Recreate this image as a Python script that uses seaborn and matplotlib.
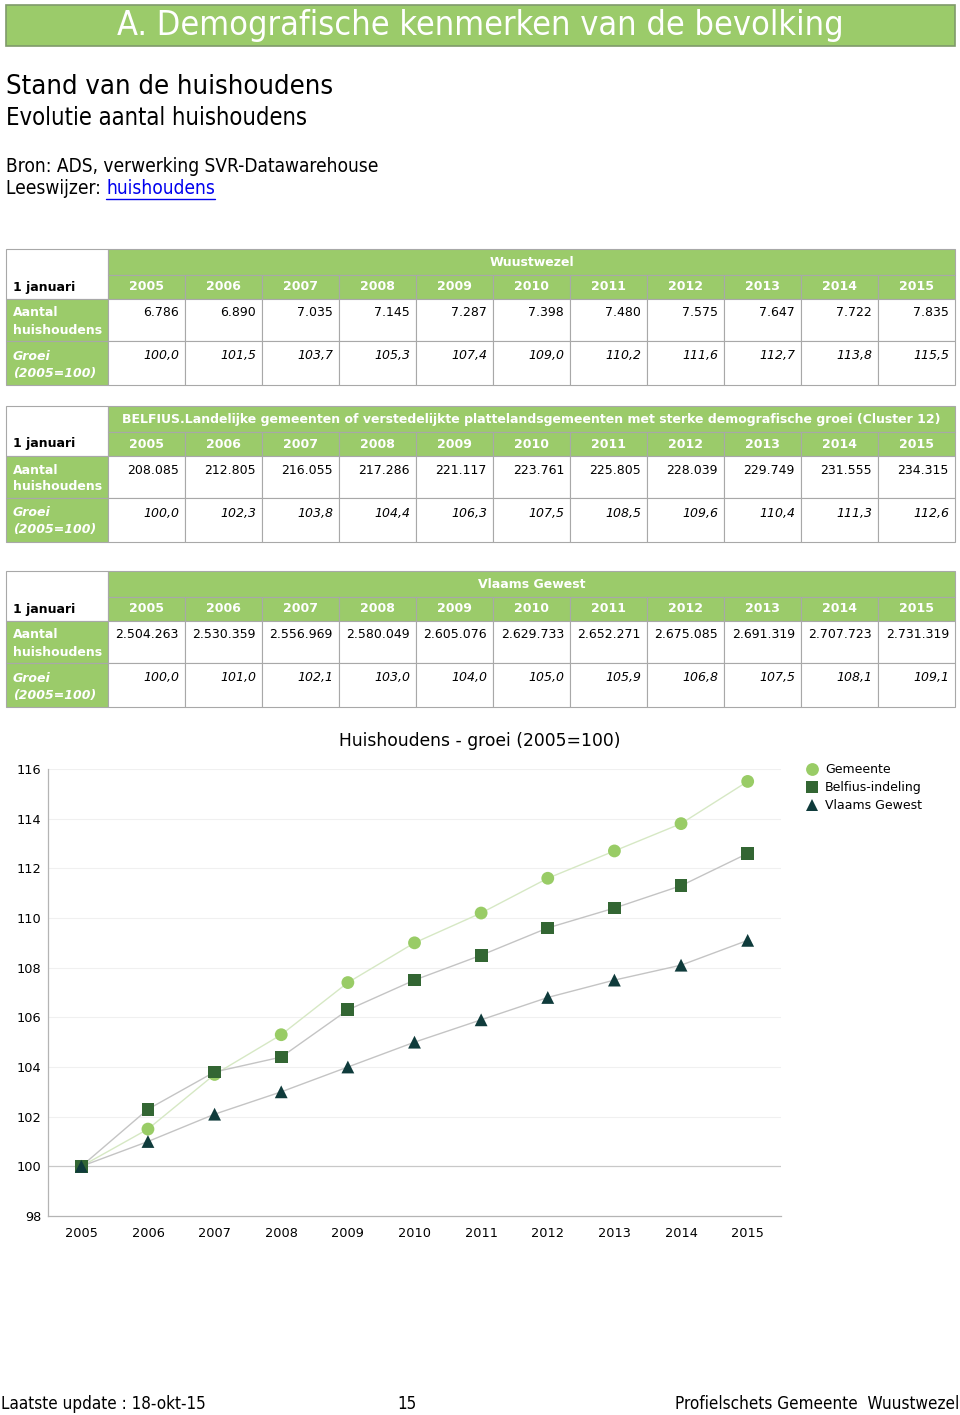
import numpy as np
import pandas as pd
import seaborn as sns
import matplotlib.pyplot as plt
from matplotlib.patches import Rectangle

jaren = [2005, 2006, 2007, 2008, 2009, 2010, 2011, 2012, 2013, 2014, 2015]

gemeente_naam = "Wuustwezel"
gemeente_aantal = [6786, 6890, 7035, 7145, 7287, 7398, 7480, 7575, 7647, 7722, 7835]
gemeente_groei = [100.0, 101.5, 103.7, 105.3, 107.4, 109.0, 110.2, 111.6, 112.7, 113.8, 115.5]

belfius_naam = ("BELFIUS.Landelijke gemeenten of verstedelijkte plattelandsgemeenten "
                "met sterke demografische groei (Cluster 12)")
belfius_aantal = [208085, 212805, 216055, 217286, 221117, 223761, 225805, 228039, 229749, 231555, 234315]
belfius_groei = [100.0, 102.3, 103.8, 104.4, 106.3, 107.5, 108.5, 109.6, 110.4, 111.3, 112.6]

vlaams_naam = "Vlaams Gewest"
vlaams_aantal = [2504263, 2530359, 2556969, 2580049, 2605076, 2629733, 2652271, 2675085, 2691319, 2707723, 2731319]
vlaams_groei = [100.0, 101.0, 102.1, 103.0, 104.0, 105.0, 105.9, 106.8, 107.5, 108.1, 109.1]

reeksen = ["Gemeente", "Belfius-indeling", "Vlaams Gewest"]

GROEN = "#9bcb6a"
RAND = "#a8a8a8"

sns.set_theme(style="white")
plt.rcParams['font.family'] = ['DejaVu Sans']
plt.rcParams['text.color'] = 'black'

fig = plt.figure(figsize=(9.6, 14.15), dpi=100)
renderer = fig.canvas.get_renderer()


def fit(t, width):
    # lettergrootte aanpassen zodat de tekst de breedte uit het origineel krijgt
    w = t.get_window_extent(renderer).width
    t.set_fontsize(t.get_fontsize() * width / w)
    return t


def smal(x, y, s, width, **kw):
    t = bg.text(x, y, s, fontsize=14, va="center", fontstretch="condensed", **kw)
    return fit(t, width)


# achtergrond-as in pixels voor banner, teksten en tabellen
bg = fig.add_axes([0, 0, 1, 1])
bg.set_xlim(0, 960)
bg.set_ylim(1415, 0)
bg.axis("off")

bg.add_patch(Rectangle((6, 5), 949, 41, facecolor=GROEN, edgecolor="#7f9a6a", lw=1.2))
smal(480, 26, "A. Demografische kenmerken van de bevolking", 733, color="white", ha="center")

smal(6, 87, "Stand van de huishoudens", 329)
smal(6, 118, "Evolutie aantal huishoudens", 304)
bron = smal(6, 166, "Bron: ADS, verwerking SVR-Datawarehouse", 374)
lees = bg.text(6, 189, "Leeswijzer: ", fontsize=bron.get_fontsize(), va="center", fontstretch="condensed")
x_link = bg.transData.inverted().transform((lees.get_window_extent(renderer).x1, 0))[0]
link = bg.text(x_link, 189, "huishoudens", fontsize=bron.get_fontsize(), va="center",
               fontstretch="condensed", color="#0000ee")
x_end = bg.transData.inverted().transform((link.get_window_extent(renderer).x1, 0))[0]
bg.plot([x_link, x_end], [199, 199], color="#0000ee", lw=1)


def fmt_aantal(v):
    return f"{v:,}".replace(",", ".")


def fmt_groei(v):
    return f"{v:.1f}".replace(".", ",")


def draw_table(top, naam, aantal, groei):
    r = [top, top + 26, top + 50, top + 92, top + 136]
    cols = np.linspace(108, 955, 12)
    # linker kolom
    bg.add_patch(Rectangle((6, r[0]), 102, r[2] - r[0], facecolor="white", edgecolor=RAND, lw=0.8))
    bg.add_patch(Rectangle((6, r[2]), 102, r[3] - r[2], facecolor=GROEN, edgecolor=RAND, lw=0.8))
    bg.add_patch(Rectangle((6, r[3]), 102, r[4] - r[3], facecolor=GROEN, edgecolor=RAND, lw=0.8))
    bg.text(13, r[1] + 12, "1 januari", fontsize=9, weight="bold", va="center")
    bg.text(13, r[2] + 14, "Aantal", fontsize=9, weight="bold", va="center", color="white")
    bg.text(13, r[2] + 31, "huishoudens", fontsize=9, weight="bold", va="center", color="white")
    bg.text(13, r[3] + 15, "Groei", fontsize=9, weight="bold", style="italic", va="center", color="white")
    bg.text(13, r[3] + 32, "(2005=100)", fontsize=9, weight="bold", style="italic", va="center", color="white")
    # kop
    bg.add_patch(Rectangle((108, r[0]), 847, r[1] - r[0], facecolor=GROEN, edgecolor=RAND, lw=0.8))
    bg.text(531.5, r[0] + 13, naam, fontsize=9, weight="bold", ha="center", va="center", color="white")
    for i, j in enumerate(jaren):
        x0, x1 = cols[i], cols[i + 1]
        bg.add_patch(Rectangle((x0, r[1]), x1 - x0, r[2] - r[1], facecolor=GROEN, edgecolor=RAND, lw=0.8))
        bg.add_patch(Rectangle((x0, r[2]), x1 - x0, r[3] - r[2], facecolor="white", edgecolor=RAND, lw=0.8))
        bg.add_patch(Rectangle((x0, r[3]), x1 - x0, r[4] - r[3], facecolor="white", edgecolor=RAND, lw=0.8))
        bg.text((x0 + x1) / 2, r[1] + 12, str(j), fontsize=9, weight="bold", ha="center", va="center",
                color="white")
        bg.text(x1 - 6, r[2] + 14, fmt_aantal(aantal[i]), fontsize=9, ha="right", va="center")
        bg.text(x1 - 6, r[3] + 15, fmt_groei(groei[i]), fontsize=9, style="italic", ha="right", va="center")


draw_table(249, gemeente_naam, gemeente_aantal, gemeente_groei)
draw_table(406, belfius_naam, belfius_aantal, belfius_groei)
draw_table(571, vlaams_naam, vlaams_aantal, vlaams_groei)

# footer
voet = smal(1, 1404, "Laatste update : 18-okt-15", 206)
bg.text(407, 1404, "15", fontsize=voet.get_fontsize(), va="center", ha="center", fontstretch="condensed")
bg.text(959, 1404, "Profielschets Gemeente  Wuustwezel", fontsize=voet.get_fontsize(), va="center",
        ha="right", fontstretch="condensed")

# grafiek
df = pd.DataFrame({
    "idx": list(range(len(jaren))) * 3,
    "groei": gemeente_groei + belfius_groei + vlaams_groei,
    "reeks": np.repeat(reeksen, len(jaren)),
})

ax = fig.add_axes([48 / 960, 1 - 1216 / 1415, (781 - 48) / 960, (1216 - 769) / 1415])
ax.set_facecolor("none")
sns.lineplot(data=df, x="idx", y="groei", hue="reeks", palette=["#d6e8c4", "#c4c4c4", "#c4c4c4"],
             lw=1, legend=False, ax=ax, zorder=2)
sns.scatterplot(data=df, x="idx", y="groei", hue="reeks", style="reeks",
                palette=["#99cc66", "#336633", "#0f3b3b"],
                markers={"Gemeente": "o", "Belfius-indeling": "s", "Vlaams Gewest": "^"},
                s=85, linewidth=0, ax=ax, zorder=3)

ax.set_xlim(-0.5, 10.5)
ax.set_ylim(98, 116)
ax.set_yticks(range(98, 117, 2))
ax.set_xticks(range(len(jaren)))
ax.set_xticklabels([str(j) for j in jaren])
ax.tick_params(axis="both", labelsize=9.3, length=0, colors="black")
ax.tick_params(axis="y", pad=5)
ax.tick_params(axis="x", pad=8)
for y in range(102, 117, 2):
    ax.axhline(y, color="#f0f0f0", lw=0.8, zorder=0)
ax.axhline(100, color="#c8c8c8", lw=0.9, zorder=1)
for s in ["top", "right"]:
    ax.spines[s].set_visible(False)
for s in ["left", "bottom"]:
    ax.spines[s].set_color("#b4b4b4")
    ax.spines[s].set_linewidth(0.9)
ax.set_xlabel("")
ax.set_ylabel("")
fig.text(480 / 960, 1 - 741 / 1415, "Huishoudens - groei (2005=100)", fontsize=12.3,
         ha="center", va="center")

ax.legend(loc="upper left", bbox_to_anchor=((806 - 48) / 733, (1216 - 763) / 447), frameon=False,
          fontsize=9, handlelength=1.0, handletextpad=0.5, labelspacing=0.4,
          borderaxespad=0, borderpad=0)

fig.savefig("out.png", dpi=100)
